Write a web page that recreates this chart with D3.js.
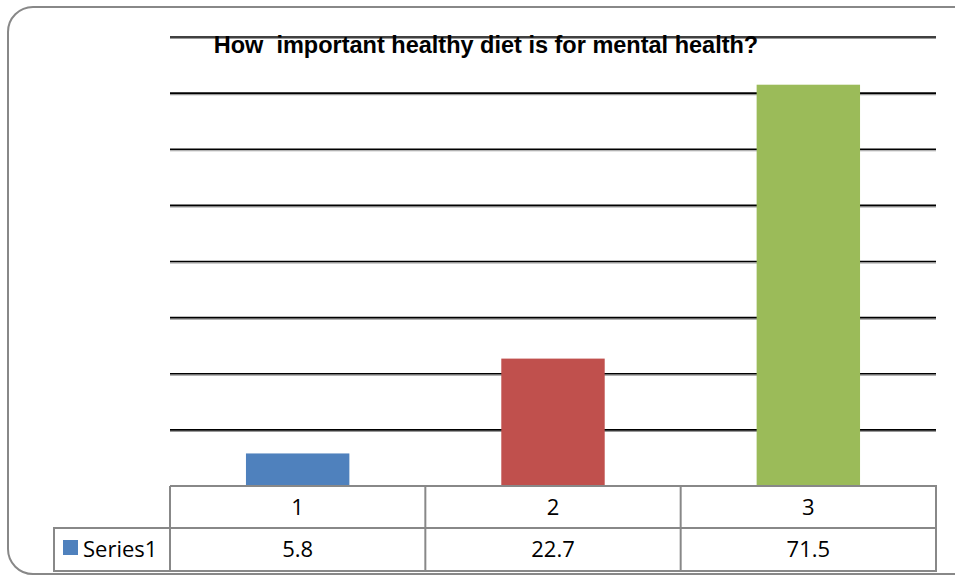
<!DOCTYPE html>
<html>
<head>
<meta charset="utf-8">
<script src="https://cdn.jsdelivr.net/npm/d3@7"></script>
<style>
  body { margin: 0; background: #fff; }
  svg { display: block; }
</style>
</head>
<body>
<div id="chart"></div>
<script>
// dane
const categories = ["1", "2", "3"];
const values = [5.8, 22.7, 71.5];
const seriesName = "Series1";
const colors = ["#4F81BD", "#C0504D", "#9BBB59"];
const gridTicks = [10, 20, 30, 40, 50, 60, 70, 80];
const title = "How  important healthy diet is for mental health?";

const W = 955, H = 577;
const plot = { left: 170, right: 936, top: 37, bottom: 486 };
const tableRow = 42;

const svg = d3.select("#chart").append("svg")
  .attr("width", W)
  .attr("height", H);

// ramka zewnętrzna
svg.append("rect")
  .attr("x", 8).attr("y", 7)
  .attr("width", 970).attr("height", 567)
  .attr("rx", 25)
  .attr("fill", "#fff")
  .attr("stroke", "#888")
  .attr("stroke-width", 2);

const x = d3.scaleBand()
  .domain(categories)
  .range([plot.left, plot.right])
  .padding(0);

const y = d3.scaleLinear()
  .domain([0, 80])
  .range([plot.bottom, plot.top]);

// linie siatki
const grid = svg.append("g");
grid.selectAll("line.shadow")
  .data(gridTicks)
  .join("line")
  .attr("class", "shadow")
  .attr("x1", plot.left).attr("x2", plot.right)
  .attr("y1", d => y(d) + 1.5).attr("y2", d => y(d) + 1.5)
  .attr("stroke", "#999")
  .attr("stroke-width", 1.2);
grid.selectAll("line.main")
  .data(gridTicks)
  .join("line")
  .attr("class", "main")
  .attr("x1", plot.left).attr("x2", plot.right)
  .attr("y1", d => y(d)).attr("y2", d => y(d))
  .attr("stroke", "#000")
  .attr("stroke-width", 1.6);

// słupki
const barW = x.bandwidth() * 0.405;
svg.selectAll("rect.bar")
  .data(values)
  .join("rect")
  .attr("class", "bar")
  .attr("x", (d, i) => x(categories[i]) + (x.bandwidth() - barW) / 2)
  .attr("y", d => y(d))
  .attr("width", barW)
  .attr("height", d => y(0) - y(d))
  .attr("fill", (d, i) => colors[i]);

// tytuł
svg.append("text")
  .attr("x", 486)
  .attr("y", 53)
  .attr("text-anchor", "middle")
  .style("font-family", "Liberation Sans, Arial, sans-serif")
  .style("font-weight", "bold")
  .style("font-size", "23.5px")
  .style("white-space", "pre")
  .text(title);

// tabela danych
const t = svg.append("g");
const tableColor = "#888";
const row1 = plot.bottom, row2 = plot.bottom + tableRow, row3 = plot.bottom + tableRow * 2 + 1;
const legendLeft = 54;

t.append("path")
  .attr("d", `M${plot.left},${row1}H${plot.right}V${row3}H${legendLeft}V${row2}H${plot.right}`)
  .attr("fill", "none")
  .attr("stroke", tableColor)
  .attr("stroke-width", 2);
t.selectAll("line.col")
  .data(categories)
  .join("line")
  .attr("class", "col")
  .attr("x1", d => x(d)).attr("x2", d => x(d))
  .attr("y1", row1).attr("y2", row3)
  .attr("stroke", tableColor)
  .attr("stroke-width", 2);

const font = "Open Sans, Noto Sans, sans-serif";
t.selectAll("text.cat")
  .data(categories)
  .join("text")
  .attr("class", "cat")
  .attr("x", d => x(d) + x.bandwidth() / 2)
  .attr("y", row1 + 29)
  .attr("text-anchor", "middle")
  .style("font-family", font)
  .style("font-size", "22px")
  .text(d => d);
t.selectAll("text.val")
  .data(values)
  .join("text")
  .attr("class", "val")
  .attr("x", (d, i) => x(categories[i]) + x.bandwidth() / 2)
  .attr("y", row2 + 29)
  .attr("text-anchor", "middle")
  .style("font-family", font)
  .style("font-size", "22px")
  .text(d => d);

// legenda w tabeli
t.append("rect")
  .attr("x", 63).attr("y", row2 + 12)
  .attr("width", 15).attr("height", 15)
  .attr("fill", colors[0]);
t.append("text")
  .attr("x", 83)
  .attr("y", row2 + 29)
  .style("font-family", font)
  .style("font-size", "22px")
  .text(seriesName);
</script>
</body>
</html>
